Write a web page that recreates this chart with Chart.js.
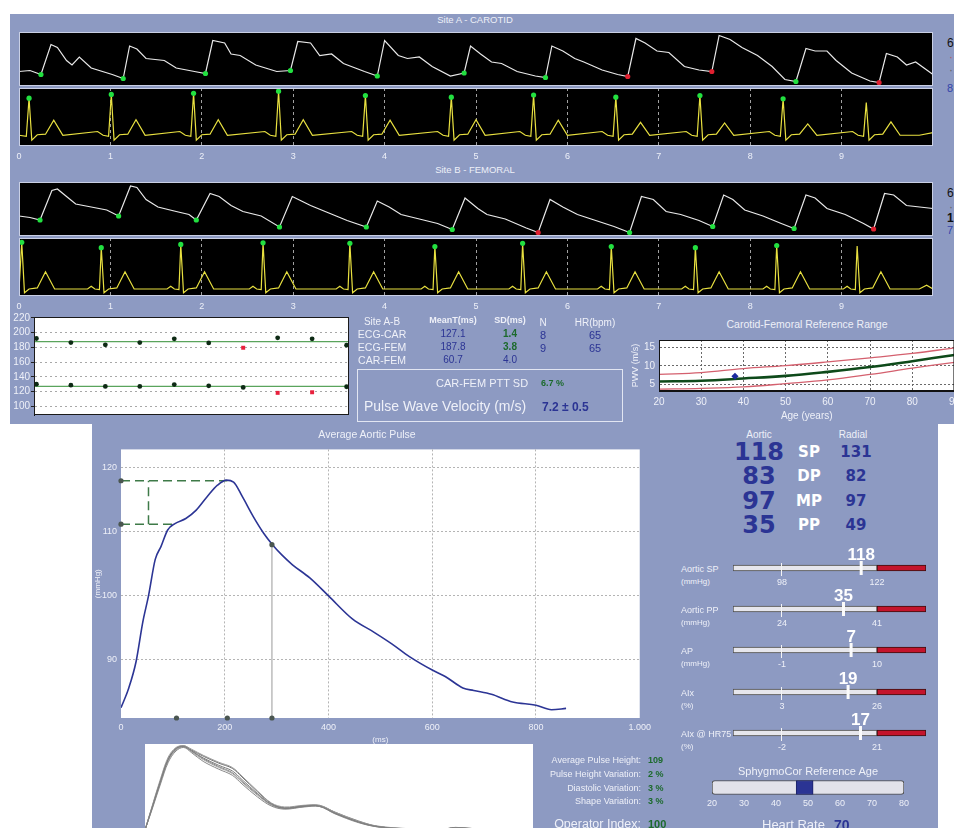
<!DOCTYPE html>
<html><head><meta charset="utf-8">
<script src="https://cdn.jsdelivr.net/npm/chart.js@4.4.0/dist/chart.umd.min.js"></script>
<style>
html,body{margin:0;padding:0;}
body{width:954px;height:828px;overflow:hidden;position:relative;background:#fff;font-family:"Liberation Sans",Arial,sans-serif;}
.panel{position:absolute;background:#8d9ac2;}
canvas{display:block;}
</style></head><body>
<div class="panel" style="left:10px;top:14px;width:960px;height:410px;"></div>
<div class="panel" style="left:92px;top:424px;width:846px;height:404px;"></div>
<div style="position:absolute;left:357px;top:369px;width:264px;height:51px;border:1px solid #e2e6f2;"></div>
<script>
// ---------------- DATA ----------------
const carotidWave = [[0,25],[0.12,27],[0.24,19],[0.35,79],[0.42,73],[0.52,47],[0.58,38],[0.66,54],[0.79,32],[1.02,19],[1.14,11],
[1.21,76],[1.29,70],[1.39,51],[1.59,47],[1.72,32],[1.92,25],[2.04,21],
[2.12,87],[2.25,82],[2.32,60],[2.42,57],[2.59,38],[2.82,25],[2.97,27],
[3.05,85],[3.19,82],[3.29,57],[3.42,60],[3.55,41],[3.78,25],[3.92,16],
[4.00,87],[4.15,57],[4.25,51],[4.38,54],[4.52,35],[4.72,16],[4.87,22],
[4.94,76],[5.05,60],[5.17,44],[5.28,41],[5.45,25],[5.65,16],[5.76,13],
[5.83,76],[5.95,66],[6.08,51],[6.18,44],[6.38,28],[6.55,19],[6.66,15],
[6.75,91],[6.85,82],[6.98,66],[7.11,63],[7.28,35],[7.44,28],[7.58,25],
[7.66,97],[7.78,89],[7.91,73],[8.08,57],[8.24,35],[8.38,9],[8.50,5],
[8.61,71],[8.71,66],[8.84,66],[8.94,47],[9.11,22],[9.31,6],[9.41,3],
[9.49,61],[9.61,54],[9.71,38],[9.81,44],[10,19]];
const carotidFeet = [[0.24,19],[1.14,11],[2.04,21],[2.97,27],[3.92,16],[4.87,22],[5.76,13],[6.66,15],[7.58,25],[8.50,5],[9.41,3]];
const carotidFeetOk = [1,1,1,1,1,1,1,0,0,1,0];

const carotidEcg = [[0,16],[0.08,14],[0.11,85],[0.14,7],[0.20,17],[0.29,18],[0.38,44],[0.48,16],
[0.86,23],[0.92,16],[0.98,14],[1.01,92],[1.04,7],[1.10,17],[1.19,18],[1.28,45],[1.38,16],
[1.76,23],[1.82,16],[1.88,14],[1.91,94],[1.94,7],[2.00,17],[2.09,18],[2.18,45],[2.28,16],
[2.69,23],[2.75,16],[2.81,14],[2.84,98],[2.87,7],[2.93,17],[3.02,18],[3.11,45],[3.21,16],
[3.64,23],[3.70,16],[3.76,14],[3.79,90],[3.82,7],[3.88,17],[3.97,18],[4.06,44],[4.16,16],
[4.58,23],[4.64,16],[4.70,14],[4.73,87],[4.76,7],[4.82,17],[4.91,18],[5.00,45],[5.10,16],
[5.48,23],[5.54,16],[5.60,14],[5.63,91],[5.66,7],[5.72,17],[5.81,18],[5.90,44],[6.00,16],
[6.38,23],[6.44,16],[6.50,14],[6.53,87],[6.56,7],[6.62,17],[6.71,18],[6.80,40],[6.90,16],
[7.30,23],[7.36,16],[7.42,14],[7.45,90],[7.48,7],[7.54,17],[7.63,18],[7.72,39],[7.82,16],
[8.21,23],[8.27,16],[8.33,14],[8.36,84],[8.39,7],[8.45,17],[8.54,18],[8.63,37],[8.73,16],
[9.12,23],[9.18,16],[9.24,14],[9.27,77],[9.30,7],[9.36,17],[9.45,18],[9.54,41],[9.64,16],[9.85,16],[10,21]];
const carotidR = [[0.11,85],[1.01,92],[1.91,94],[2.84,98],[3.79,90],[4.73,87],[5.63,91],[6.53,87],[7.45,90],[8.36,84]];

const femoralWave = [[0,36],[0.12,33],[0.23,28],[0.36,87],[0.42,90],[0.52,75],[0.62,60],[0.79,54],[0.96,48],[1.09,36],
[1.22,96],[1.29,93],[1.39,69],[1.52,54],[1.72,45],[1.86,39],[1.94,28],
[2.09,81],[2.19,75],[2.32,57],[2.45,45],[2.65,36],[2.85,14],
[2.99,75],[3.09,66],[3.19,57],[3.39,42],[3.59,27],[3.80,14],
[3.92,66],[4.05,54],[4.18,39],[4.38,30],[4.58,21],[4.74,9],
[4.88,72],[5.02,51],[5.12,39],[5.32,30],[5.55,12],[5.68,3],
[5.81,69],[5.95,54],[6.11,39],[6.31,27],[6.51,15],[6.68,3],
[6.81,75],[6.94,69],[7.08,45],[7.24,39],[7.44,27],[7.59,15],
[7.71,78],[7.81,69],[7.94,48],[8.14,36],[8.34,21],[8.48,11],
[8.61,78],[8.71,72],[8.84,51],[9.04,39],[9.24,21],[9.35,10],
[9.47,81],[9.57,78],[9.71,57],[10,51]];
const femoralFeet = [[0.23,28],[1.09,36],[1.94,28],[2.85,14],[3.80,14],[4.74,9],[5.68,3],[6.68,3],[7.59,15],[8.48,11],[9.35,10]];
const femoralFeetOk = [1,1,1,1,1,1,0,1,1,1,0];

const femoralEcg = [[0,8],[0.03,96],[0.06,2],[0.11,9],[0.20,11],[0.29,41],[0.39,9],
[0.75,9],[0.79,14],[0.83,9],[0.88,8],[0.90,86],[0.93,2],[0.98,9],[1.07,11],[1.16,41],[1.26,9],
[1.62,9],[1.66,14],[1.70,9],[1.75,8],[1.77,92],[1.80,2],[1.85,9],[1.94,11],[2.03,41],[2.13,9],
[2.52,9],[2.56,14],[2.60,9],[2.65,8],[2.67,95],[2.70,2],[2.75,9],[2.84,11],[2.93,41],[3.03,9],
[3.47,9],[3.51,14],[3.55,9],[3.60,8],[3.62,94],[3.65,2],[3.70,9],[3.79,11],[3.88,41],[3.98,9],
[4.40,9],[4.44,14],[4.48,9],[4.53,8],[4.55,88],[4.58,2],[4.63,9],[4.72,11],[4.81,41],[4.91,9],
[5.36,9],[5.40,14],[5.44,9],[5.49,8],[5.51,94],[5.54,2],[5.59,9],[5.68,11],[5.77,41],[5.87,9],
[6.33,9],[6.37,14],[6.41,9],[6.46,8],[6.48,88],[6.51,2],[6.56,9],[6.65,11],[6.74,41],[6.84,9],
[7.25,9],[7.29,14],[7.33,9],[7.38,8],[7.40,86],[7.43,2],[7.48,9],[7.57,11],[7.66,41],[7.76,9],
[8.14,9],[8.18,14],[8.22,9],[8.27,8],[8.29,90],[8.32,2],[8.37,9],[8.46,11],[8.55,41],[8.65,9],
[9.02,9],[9.06,14],[9.10,9],[9.15,8],[9.17,89],[9.20,2],[9.25,9],[9.34,11],[9.43,41],[9.53,9],[9.85,9],[9.93,16],[10,9]];
const femoralR = [[0.03,96],[0.90,86],[1.77,92],[2.67,95],[3.62,94],[4.55,88],[5.51,94],[6.48,88],[7.40,86],[8.29,90]];

const stripTicks = [0,1,2,3,4,5,6,7,8,9];

const pttIndex = [0,1,2,3,4,5,6,7,8,9];
const pttEcgFem = [192.1,186.5,183.5,186.5,191.7,186,179.5,193,191.7,183];
const pttEcgFemRejected = [0,0,0,0,0,0,1,0,0,0];
const pttEcgCar = [130,128.6,126.9,126.9,129.5,127.8,125.6,118.2,119,126.5];
const pttEcgCarRejected = [0,0,0,0,0,0,0,1,1,0];
const meanEcgFem = 187.8, meanEcgCar = 127.1;
const pttTicks = [100,120,140,160,180,200,220];

const refAges = [20,30,40,50,60,70,80,90];
const refMedian = [5.8,6.0,6.6,7.3,8.4,9.7,11.3,13.0];
const refUpper = [7.7,8.2,9.3,10.1,11.1,12.2,13.4,14.9];
const refLower = [3.7,3.9,4.3,5.2,6.2,7.7,9.4,11.0];
const patientAge = 38, patientPwv = 7.2;
const refYTicks = [5,10,15];

const aorticMs = [0,15,29,42,53,66,77,90,104,125,145,166,186,203,217,234,255,275,292,310,330,364,400,446,488,522,556,600,625,659,680,714,755,800,830,858];
const aorticP = [82.5,85.6,89.7,95.9,100,105.7,107.7,110.3,111.3,112.1,113.4,115.5,117.3,118.1,117.8,115.5,112.4,109.8,108,106.4,104.9,102.8,100,96.4,94.3,92.5,90.5,88.4,87.4,85.6,85.2,84.6,83.4,82.9,82.2,82.4];
const aorticYTicks = [90,100,110,120];
const aorticXTicks = [0,200,400,600,800,1000];
const peakPressure = 118, shoulderPressure = 111.2, peakMs = 205, shoulderMs = 100, apMarkMs = 53;
const endSystoleMs = 291, endSystoleP = 108, footMarksMs = [107,205,291];

const overlayT = [0,2,4,6,8,10,12,15,19,22.5,25,29,32.6,36,41,45,49,55,60,68,76,80,88,94,99];
const overlay1 = [1,29,57,82,94,97,92,84,75.5,69,59,43,30.6,26.5,28.6,28.6,20.4,10.2,4.9,2,0.8,3.3,0.8,-1,0.8];
const overlay2 = [1,31,60,85,96,98,94,87,79,73,63,46,32,27.5,29.5,29,21.5,11,5.5,2.5,1,3.5,1.5,0,1.5];
const overlay3 = [1,27,54,79,92,96,90,80,71,64,54,39,28.5,25,27.5,28,19.5,9.5,4.5,1.5,0.5,2.5,0.5,-1.5,0.5];
const overlay4 = [1,30,58,83,95,98,93,86,78,72,62,45,31.5,26,28,28.2,20,10.5,5,2.2,1.2,4,1,-0.5,1.2];
const overlay5 = [1,28,56,81,93,97,91,82,73,66,56,41,29.5,25.5,28.2,28.8,21,10,4.6,1.8,0.6,3,1.8,-1,0];
const overlay6 = [1,29,58,83,95,97,92,83,74,67,57,42,30,26,29,29.5,21.5,11.5,5.2,2.3,1,3.8,0.4,-0.8,1];

const bpLabels = ['SP','DP','MP','PP'];
const aorticBp = [118,83,97,35];
const radialBp = [131,82,97,49];

const sliderNames = ['Aortic SP','Aortic PP','AP','AIx','AIx @ HR75'];
const sliderUnits = ['(mmHg)','(mmHg)','(mmHg)','(%)','(%)'];
const sliderValues = [118,35,7,19,17];
const sliderLow = [98,24,-1,3,-2];
const sliderHigh = [122,41,10,26,21];

const refAgeTicks = [20,30,40,50,60,70,80];
const refAgeBand = [46.3,51.6];

// ---------------- HELPERS ----------------
const FF = '"Liberation Sans", Arial, sans-serif';
const LT = '#eef0f8', BLUE = '#2b3494', GREEN = '#1c6a2c';
Chart.defaults.font.family = FF;
Chart.defaults.layout.autoPadding = false;
function cv(x,y,w,h){const c=document.createElement('canvas');c.width=w;c.height=h;c.style.cssText=`position:absolute;left:${x}px;top:${y}px;`;document.body.appendChild(c);return c;}
function txt(s,x,y,o={}){const d=document.createElement('div');d.textContent=s;const fs=o.fs||10;
 const tx=o.a==='c'?'-50%':(o.a==='r'?'-100%':'0');
 d.style.cssText=`position:absolute;left:${x}px;top:${y}px;font-size:${fs}px;line-height:1;white-space:nowrap;color:${o.c||LT};font-weight:${o.b?'bold':'normal'};font-family:${o.f||FF};transform:translate(${tx},-50%);`;
 document.body.appendChild(d);}
const pts = a => a.map(p=>({x:p[0],y:p[1]}));
const base = () => ({animation:false,responsive:false,events:[],plugins:{legend:{display:false},tooltip:{enabled:false}}});

Chart.register({id:'bgFrame',
 beforeDraw(ch,a,o){if(!o.bg)return;const c=ch.ctx,r=ch.chartArea;c.save();c.fillStyle=o.bg;c.fillRect(r.left,r.top,r.width,r.height);c.restore();},
 afterDraw(ch,a,o){if(!o.frame)return;const c=ch.ctx,r=ch.chartArea;c.save();c.strokeStyle=o.frame;c.lineWidth=1;c.strokeRect(r.left+0.5,r.top+0.5,r.width-1,r.height-1);c.restore();}});
Chart.register({id:'valLabel',
 afterDatasetsDraw(ch,a,o){if(o.value===undefined)return;const x=ch.scales.x.getPixelForValue(o.value);const c=ch.ctx;c.save();c.font='bold 17px '+FF;c.fillStyle='#fff';c.textAlign='center';c.textBaseline='alphabetic';c.fillText(String(o.value),x,ch.chartArea.top-3);c.restore();}});

// ---------------- STRIPS ----------------
function strip(x,y,h,line,color,marks,markCols,axis){
 const o=base();
 o.layout={padding:{left:10,right:10,top:0,bottom:0}};
 o.plugins.bgFrame={bg:'#000',frame:'#c9cfe4'};
 o.scales={
  x: axis ? {type:'linear',min:0,max:10,
     afterBuildTicks:s=>{s.ticks=stripTicks.map(v=>({value:v}));},
     afterFit:s=>{s.height=18;},
     border:{display:false,dash:[3,3]},
     grid:{color:'#a0a0a0',lineWidth:c=>(c.tick&&c.tick.value>0)?1:0,drawTicks:false},
     ticks:{color:LT,font:{size:9},padding:5}}
   : {type:'linear',min:0,max:10,display:false},
  y:{min:-4,max:104,display:false}};
 new Chart(cv(x,y,934,h),{type:'line',data:{datasets:[
  {data:pts(marks),showLine:false,pointRadius:2.6,pointBorderWidth:0,pointBackgroundColor:markCols,order:0},
  {data:pts(line),borderColor:color,borderWidth:1.2,pointRadius:0,tension:0,order:1}]},options:o});
}
const okCol = f=>f.map(v=>v?'#22e040':'#e02030');
strip(9,32,54,carotidWave,'#e8e8e8',carotidFeet,okCol(carotidFeetOk),false);
strip(9,88,76,carotidEcg,'#e8e040',carotidR,carotidR.map(()=>'#22e040'),true);
strip(9,182,54,femoralWave,'#e8e8e8',femoralFeet,okCol(femoralFeetOk),false);
strip(9,238,76,femoralEcg,'#e8e040',femoralR,femoralR.map(()=>'#22e040'),true);

// ---------------- PTT CHART ----------------
(function(){
 const o=base();
 o.layout={padding:{top:7,bottom:4,right:5,left:0}};
 o.plugins.bgFrame={bg:'#fff',frame:'#1a1a1a'};
 const xr=[pttIndex[0]-0.07,pttIndex[pttIndex.length-1]+0.07];
 o.scales={
  x:{type:'linear',min:xr[0],max:xr[1],display:false},
  y:{min:88.1,max:221.3,afterBuildTicks:s=>{s.ticks=pttTicks.map(v=>({value:v}));},afterFit:s=>{s.width=34;},
     grid:{color:'#a8a8a8',drawTicks:true,tickLength:3,tickColor:'#222'},border:{display:true,color:'#111',dash:[2,3]},
     ticks:{color:LT,font:{size:10},padding:1}}};
 const sc=(vals,rej)=>({type:'scatter',data:vals.map((v,i)=>({x:pttIndex[i],y:v})),pointStyle:rej.map(r=>r?'rect':'circle'),
   pointRadius:rej.map(r=>r?2.8:2.4),pointBorderWidth:0,pointBackgroundColor:rej.map(r=>r?'#e8203c':'#0d2a14'),order:0});
 new Chart(cv(0,310,354,112),{type:'line',data:{datasets:[
  sc(pttEcgFem,pttEcgFemRejected),sc(pttEcgCar,pttEcgCarRejected),
  {data:[{x:xr[0],y:meanEcgFem},{x:xr[1],y:meanEcgFem}],borderColor:'#5aa45c',borderWidth:1.2,pointRadius:0,order:1},
  {data:[{x:xr[0],y:meanEcgCar},{x:xr[1],y:meanEcgCar}],borderColor:'#5aa45c',borderWidth:1.2,pointRadius:0,order:1}]},options:o});
})();

// ---------------- REFERENCE RANGE ----------------
(function(){
 const o=base();
 o.layout={padding:{top:7,right:10,bottom:0,left:0}};
 o.plugins.bgFrame={bg:'#fff',frame:'#111'};
 const g={color:'#6a6a6a',drawTicks:false};
 o.scales={
  x:{type:'linear',min:refAges[0],max:refAges[refAges.length-1],afterFit:s=>{s.height=31;},
     ticks:{stepSize:10,color:LT,font:{size:10},padding:5},grid:g,border:{display:true,color:'#111',dash:[2,2]},
     title:{display:true,text:'Age (years)',color:LT,font:{size:10},padding:0}},
  y:{min:3.2,max:17.05,afterBuildTicks:s=>{s.ticks=refYTicks.map(v=>({value:v}));},afterFit:s=>{s.width=39;},
     ticks:{color:LT,font:{size:10},padding:4},grid:g,border:{display:true,color:'#111',dash:[2,2]},
     title:{display:true,text:'PWV (m/s)',color:LT,font:{size:9},padding:{top:10,bottom:0}}}};
 const ln=(v,c,w)=>({data:refAges.map((a,i)=>({x:a,y:v[i]})),borderColor:c,borderWidth:w,pointRadius:0,tension:0.4});
 new Chart(cv(620,330,345,92),{type:'line',data:{datasets:[
  {type:'scatter',data:[{x:patientAge,y:patientPwv}],pointStyle:'rectRot',pointRadius:3.6,pointBackgroundColor:'#1b2a9e',pointBorderWidth:0,order:0},
  ln(refUpper,'#d4606e',1.3),ln(refLower,'#d4606e',1.3),ln(refMedian,'#0e4a1a',2.6)]},options:o});
})();

// ---------------- AVERAGE AORTIC PULSE ----------------
(function(){
 const o=base();
 o.layout={padding:{top:6,right:11,bottom:0,left:0}};
 o.plugins.bgFrame={bg:'#fff'};
 const yMin=80.9,yMax=122.9;
 o.scales={
  x:{type:'linear',min:aorticXTicks[0],max:aorticXTicks[aorticXTicks.length-1],afterBuildTicks:s=>{s.ticks=aorticXTicks.map(v=>({value:v}));},
     afterFit:s=>{s.height=27;},
     ticks:{color:LT,font:{size:9},padding:4,callback:v=>v===1000?'1.000':v},
     grid:{color:'#b4b4b4',lineWidth:c=>(c.tick&&c.tick.value>0&&c.tick.value<1000)?1:0,drawTicks:false},border:{display:false,dash:[2,2]},
     title:{display:true,text:'(ms)',color:LT,font:{size:8},padding:0}},
  y:{min:yMin,max:yMax,afterBuildTicks:s=>{s.ticks=aorticYTicks.map(v=>({value:v}));},afterFit:s=>{s.width=29;},
     ticks:{color:LT,font:{size:9},padding:4},grid:{color:'#b4b4b4',drawTicks:false},border:{display:false,dash:[2,2]},
     title:{display:true,text:'(mmHg)',color:LT,font:{size:8},padding:{top:1,bottom:0}}}};
 const dash=d=>({data:pts(d),borderColor:'#3e7a48',borderWidth:1.5,borderDash:[9,5],pointRadius:0,order:2});
 new Chart(cv(92,440,563,305),{type:'line',data:{datasets:[
  {data:aorticMs.map((m,i)=>({x:m,y:aorticP[i]})),borderColor:'#2c3595',borderWidth:1.6,pointRadius:0,cubicInterpolationMode:'monotone',order:1},
  dash([[0,peakPressure],[peakMs,peakPressure]]),dash([[0,shoulderPressure],[shoulderMs,shoulderPressure]]),dash([[apMarkMs,shoulderPressure],[apMarkMs,peakPressure]]),
  {data:pts([[endSystoleMs,yMin],[endSystoleMs,endSystoleP]]),borderColor:'#9a9a9a',borderWidth:1,pointRadius:0,order:3},
  {type:'scatter',clip:false,data:pts([[0,peakPressure],[0,shoulderPressure],[endSystoleMs,endSystoleP]].concat(footMarksMs.map(m=>[m,yMin]))),
   pointRadius:2.6,pointBorderWidth:0,pointBackgroundColor:'#4a5650',order:0}]},options:o});
})();

// ---------------- OVERLAY ----------------
(function(){
 const o=base();
 o.layout={padding:0};
 o.plugins.bgFrame={bg:'#fff'};
 o.scales={x:{type:'linear',min:0,max:100,display:false},y:{min:-3.6,max:100,display:false}};
 const cols=['#7e7e7e','#9a9a9a','#8a8a8a','#6e6e6e','#a4a4a4','#858585'];
 const sets=[overlay1,overlay2,overlay3,overlay4,overlay5,overlay6].map((s,k)=>({data:overlayT.map((t,i)=>({x:t,y:s[i]})),borderColor:cols[k],borderWidth:1,pointRadius:0,tension:0.35}));
 new Chart(cv(145,744,388,90),{type:'line',data:{datasets:sets},options:o});
})();

// ---------------- SLIDERS ----------------
const sliderY=[568,609,650,692,733];
sliderNames.forEach((n,i)=>{
 const lo=sliderLow[i],hi=sliderHigh[i],span=(hi-lo)*0.515,mn=lo-span,mx=hi+span;
 const o=base();
 o.layout={padding:{left:10,right:10,top:20,bottom:0}};
 o.plugins.valLabel={value:sliderValues[i]};
 const gc=c=>(c.tick&&c.tick.value===lo)?'#f4f4f4':'rgba(0,0,0,0)';
 o.scales={
  x:{type:'linear',offset:false,min:mn,max:mx,afterBuildTicks:s=>{s.ticks=[{value:lo},{value:hi}];},afterFit:s=>{s.height=16;},
     grid:{offset:false,color:gc,tickColor:gc,drawTicks:true,tickLength:3,z:1},border:{display:false},
     ticks:{color:LT,font:{size:9},padding:1}},
  y:{type:'category',labels:['s'],display:false}};
 new Chart(cv(723,sliderY[i]-25,213,46),{type:'bar',data:{labels:['s'],datasets:[
  {type:'scatter',data:[{x:sliderValues[i],y:'s'}],pointStyle:'line',rotation:90,pointRadius:7,borderWidth:3,borderColor:'#fbfbfb',order:0},
  {indexAxis:'y',data:[[mn,hi]],backgroundColor:'#e6e6ec',borderColor:'#4a4a4a',borderWidth:1,borderSkipped:false,barThickness:6,grouped:false,order:2},
  {indexAxis:'y',data:[[hi,mx]],backgroundColor:'#c4142c',borderColor:'#3a1010',borderWidth:1,borderSkipped:false,barThickness:6,grouped:false,order:1}]},options:o});
 txt(n,681,sliderY[i]+1,{fs:9});
 txt(sliderUnits[i],681,sliderY[i]+14,{fs:8});
});

// reference age slider
(function(){
 const o=base();
 o.layout={padding:{left:10,right:10,top:5,bottom:0}};
 o.scales={
  x:{type:'linear',offset:false,min:refAgeTicks[0],max:refAgeTicks[refAgeTicks.length-1],afterBuildTicks:s=>{s.ticks=refAgeTicks.map(v=>({value:v}));},afterFit:s=>{s.height=16;},
     grid:{display:false,drawTicks:false,offset:false},border:{display:false},ticks:{color:LT,font:{size:9},padding:3}},
  y:{type:'category',labels:['a'],display:false}};
 new Chart(cv(702,775,212,36),{type:'bar',data:{labels:['a'],datasets:[
  {indexAxis:'y',data:[[refAgeBand[0],refAgeBand[1]]],backgroundColor:BLUE,borderColor:'#1c2266',borderWidth:1,borderSkipped:false,barThickness:14,grouped:false,order:0},
  {indexAxis:'y',data:[[refAgeTicks[0],refAgeTicks[refAgeTicks.length-1]]],backgroundColor:'#e2e2ea',borderColor:'#4a4a4a',borderWidth:1,borderSkipped:false,borderRadius:3,barThickness:14,grouped:false,order:1}]},options:o});
})();

// ---------------- TEXTS ----------------
txt('Site A - CAROTID',475,20,{a:'c',fs:9.5});
txt('Site B - FEMORAL',475,170,{a:'c',fs:9.5});
txt('65',947,43,{fs:12,c:'#111'});
txt('·',949,57,{fs:12,c:'#b0606a'});
txt('·',949,70,{fs:12,c:'#666'});
txt('8',947,88,{fs:11,c:'#3344aa'});
txt('65',947,193,{fs:12,c:'#111'});
txt('·',949,207,{fs:12,c:'#666'});
txt('1',947,218,{fs:12,c:'#111',b:true});
txt('7',947,230,{fs:11,c:'#3344aa'});

txt('Site A-B',382,322,{a:'c',fs:10});
txt('MeanT(ms)',453,320,{a:'c',fs:9,b:true});
txt('SD(ms)',510,320,{a:'c',fs:9,b:true});
txt('N',543,323,{a:'c',fs:10});
txt('HR(bpm)',595,323,{a:'c',fs:10});
[['ECG-CAR','127.1','1.4','8','65',GREEN],['ECG-FEM','187.8','3.8','9','65',GREEN],['CAR-FEM','60.7','4.0','','',BLUE]].forEach((r,i)=>{
 const y=334+i*13;
 txt(r[0],382,y,{a:'c',fs:10.5});
 txt(r[1],453,y,{a:'c',fs:10,c:BLUE});
 txt(r[2],510,y,{a:'c',fs:10,c:r[5],b:i<2});
 if(r[3]) txt(r[3],543,y+1,{a:'c',fs:11,c:BLUE});
 if(r[4]) txt(r[4],595,y+1,{a:'c',fs:11,c:BLUE});
});
txt('CAR-FEM PTT SD',436,383,{fs:11});
txt('6.7 %',541,383,{fs:9,b:true,c:GREEN});
txt('Pulse Wave Velocity (m/s)',364,406,{fs:14});
txt('7.2 ± 0.5',542,407,{fs:12,b:true,c:BLUE});

txt('Carotid-Femoral Reference Range',807,324,{a:'c',fs:10.5});
txt('Average Aortic Pulse',367,434,{a:'c',fs:10.5});

txt('Aortic',759,435,{a:'c',fs:10});
txt('Radial',853,435,{a:'c',fs:10});
const DJ='"DejaVu Sans", Verdana, sans-serif';
bpLabels.forEach((l,i)=>{
 const y=452+i*24.3;
 txt(String(aorticBp[i]),759,y,{a:'c',fs:24,b:true,c:BLUE,f:DJ});
 txt(l,809,y,{a:'c',fs:15,b:true,c:'#fff',f:DJ});
 txt(String(radialBp[i]),856,y,{a:'c',fs:15,b:true,c:BLUE,f:DJ});
});

txt('SphygmoCor Reference Age',808,771,{a:'c',fs:11});
[['Average Pulse Height:','109',760],['Pulse Height Variation:','2 %',774],['Diastolic Variation:','3 %',788],['Shape Variation:','3 %',801]].forEach(r=>{
 txt(r[0],641,r[2],{a:'r',fs:9});
 txt(r[1],648,r[2],{fs:9,b:true,c:GREEN});
});
txt('Operator Index:',641,824,{a:'r',fs:12.5});
txt('100',648,824,{fs:11,b:true,c:GREEN});
txt('Heart Rate',762,824,{fs:13});
txt('70',834,825,{fs:14,b:true,c:BLUE});
</script>
</body></html>
